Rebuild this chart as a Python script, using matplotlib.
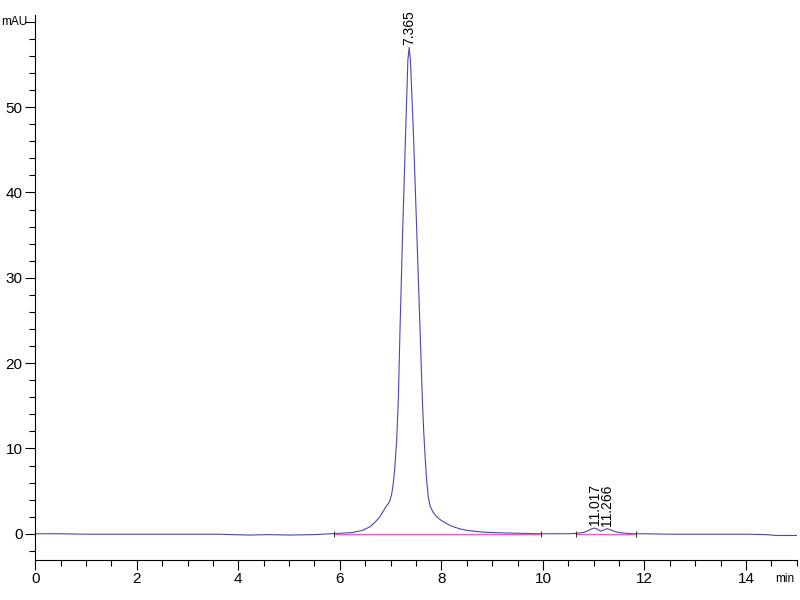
import matplotlib
matplotlib.use("Agg")
import matplotlib.pyplot as plt
from matplotlib.ticker import MultipleLocator

# Chromatogram trace (time in min, signal in mAU)
time = [0.0, 0.5, 1.0, 2.0, 3.0, 3.6, 3.9, 4.2, 4.6, 5.0, 5.5, 5.8, 6.0,
        6.25, 6.45, 6.6, 6.7, 6.79, 6.85, 6.9, 6.95, 6.98, 7.02, 7.05, 7.08,
        7.12, 7.152, 7.185, 7.238, 7.297, 7.34, 7.365, 7.39, 7.447, 7.514,
        7.58, 7.625, 7.65, 7.68, 7.71, 7.742, 7.78, 7.84, 7.907, 8.0, 8.1,
        8.2, 8.35, 8.5, 8.8, 9.2, 9.6, 10.0, 10.5, 10.66, 10.8, 10.9, 10.97,
        11.017, 11.07, 11.14, 11.2, 11.266, 11.32, 11.4, 11.5, 11.65, 11.83,
        12.0, 12.5, 13.0, 13.5, 14.0, 14.4, 14.6, 15.0]
signal = [0.0, 0.0, -0.05, -0.05, -0.05, -0.05, -0.1, -0.15, -0.1, -0.15,
          -0.1, 0.0, 0.05, 0.15, 0.4, 0.85, 1.4, 2.0, 2.6, 3.1, 3.5, 3.8,
          4.6, 5.8, 7.5, 11.0, 15.7, 23.9, 35.6, 47.3, 55.5, 57.0, 55.5,
          47.3, 35.6, 23.9, 15.7, 12.2, 9.0, 6.2, 4.3, 3.2, 2.5, 2.0, 1.55,
          1.2, 0.9, 0.6, 0.4, 0.2, 0.1, 0.05, 0.0, 0.0, 0.05, 0.15, 0.4, 0.6,
          0.67, 0.55, 0.3, 0.45, 0.6, 0.5, 0.3, 0.15, 0.05, 0.0, 0.0, -0.05,
          -0.05, -0.05, -0.05, -0.1, -0.2, -0.2]

# integration baselines
base_start = [5.89, 10.66]
base_end = [9.97, 11.83]

# peak labels
peak_rt = [7.365, 11.017, 11.266]
peak_h = [57.0, 0.67, 0.6]
peak_txt = ['7.365', '11.017', '11.266']

plt.rcParams['font.family'] = ['Liberation Sans', 'DejaVu Sans']

fig = plt.figure(figsize=(8, 6), dpi=100)
ax = fig.add_axes([0.044, 0.067, 0.952, 0.908])

ax.plot(time, signal, color='#4848b0', lw=0.8)
for s, e in zip(base_start, base_end):
  ax.plot([s, e], [0, 0], color='#ff55cc', lw=0.9)
  ax.plot([s, e], [0, 0], ls='none', marker='|', ms=5, mew=0.7, color='#333333')

for rt, h, t in zip(peak_rt, peak_h, peak_txt):
  ax.text(rt, h + 0.3, t, rotation=90, ha='center', va='bottom', fontsize=10)

ax.set_xlim(0, 15.0)
ax.set_ylim(-3.05, 60.8)

ax.spines['top'].set_visible(False)
ax.spines['right'].set_visible(False)

ax.xaxis.set_major_locator(MultipleLocator(2))
ax.xaxis.set_minor_locator(MultipleLocator(0.5))
ax.set_yticks([0, 10, 20, 30, 40, 50, 60])
ax.set_yticklabels(['0', '10', '20', '30', '40', '50', ''])
ax.yaxis.set_minor_locator(MultipleLocator(2))

ax.tick_params(axis='both', which='major', length=7, width=0.8, labelsize=11, pad=2)
ax.tick_params(axis='both', which='minor', length=4, width=0.8)

# unit labels
ax.text(-0.15, 60, 'mAU', fontsize=8.5, ha='right', va='center')
fig.text(0.981, 0.035, 'min', fontsize=8.5, ha='center', va='center')

plt.savefig('out.png', dpi=100)
